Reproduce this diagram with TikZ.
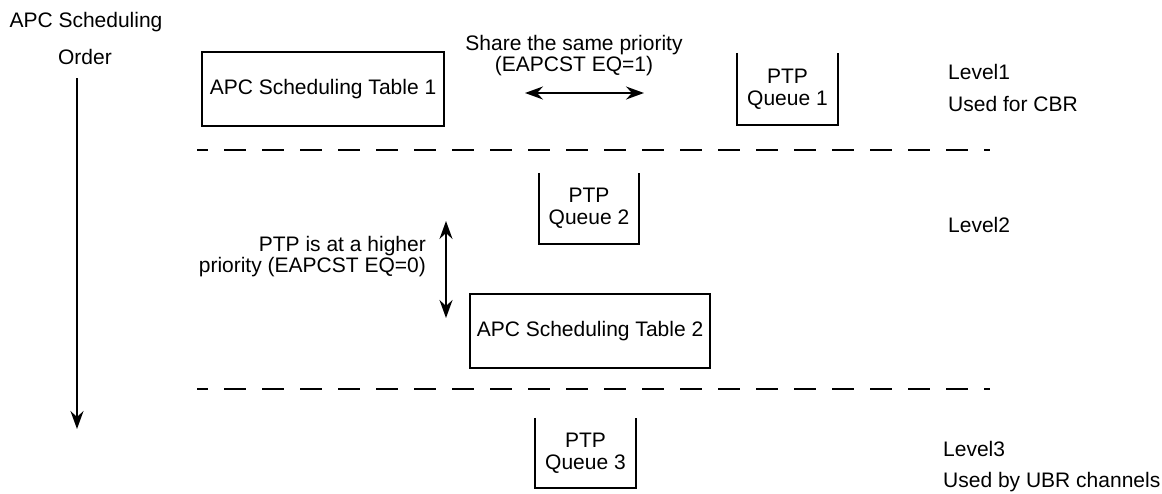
\documentclass[tikz,border=0pt]{standalone}
\usepackage{fontspec}
\setmainfont{Liberation Sans}
\usetikzlibrary{arrows.meta}
\begin{document}
\begin{tikzpicture}[x=1pt,y=-1pt,
  every node/.style={font=\fontsize{21}{22}\selectfont, inner sep=0pt},
  lbl/.style={align=center},
  tbox/.style={draw, line width=2pt, minimum width=#1},
  qbox/.style={minimum width=100pt, minimum height=72pt, align=center},
  wall/.style={line width=2pt},
  dline/.style={line width=2pt, dash pattern=on 22pt off 16pt, dash phase=11pt},
  dbl/.style={line width=2pt, {Stealth[length=18pt,width=13pt,inset=6pt]}-{Stealth[length=18pt,width=13pt,inset=6pt]}},
  sgl/.style={line width=2pt, -{Stealth[length=18pt,width=13pt,inset=6pt]}}
]
\useasboundingbox (0,0) rectangle (1162,493);

% left order arrow
\node (ord1) at (86,22) {APC Scheduling};
\node (ord2) at (85,57) {Order};
\coordinate (os) at (77,78);
\coordinate (oe) at (77,429);
\draw[sgl] (os) -- (oe);

% level 1
\node[tbox=242pt, minimum height=74pt] (t1) at (323,89) {APC Scheduling Table 1};
\node[lbl] (share) at (574,56) {Share the same priority\\[-1pt](EAPCST EQ=1)};
\coordinate (h1) at (525,93);
\coordinate (h2) at (644,93);
\draw[dbl] (h1) -- (h2);
\node[qbox] (q1) at (787.5,89) {PTP\\Queue 1};
\draw[wall] (q1.north west) -- (q1.south west) -- (q1.south east) -- (q1.north east);
\node[anchor=west] (l1) at (948,72) {Level1};
\node[anchor=west] (u1) at (948,104) {Used for CBR};

% dashed separators
\coordinate (d1a) at (197,150);
\coordinate (d1b) at (990,150);
\draw[dline] (d1a) -- (d1b);
\coordinate (d2a) at (197,389);
\coordinate (d2b) at (990,389);
\draw[dline] (d2a) -- (d2b);

% level 2
\node[qbox, minimum height=71pt] (q2) at (589,208.5) {PTP\\Queue 2};
\draw[wall] (q2.north west) -- (q2.south west) -- (q2.south east) -- (q2.north east);
\node[lbl, align=right, anchor=east] (hp) at (426,257) {PTP is at a higher\\[-1pt]priority (EAPCST EQ=0)};
\coordinate (v1) at (446,221);
\coordinate (v2) at (446,318);
\draw[dbl] (v1) -- (v2);
\node[tbox=240pt, minimum height=74pt] (t2) at (590,331) {APC Scheduling Table 2};
\node[anchor=west] (l2) at (948,225) {Level2};

% level 3
\node[qbox, minimum height=70pt] (q3) at (585.5,453) {PTP\\Queue 3};
\draw[wall] (q3.north west) -- (q3.south west) -- (q3.south east) -- (q3.north east);
\node[anchor=west] (l3) at (943,449) {Level3};
\node[anchor=west] (u3) at (943,482) {Used by UBR channels};
\end{tikzpicture}
\end{document}
